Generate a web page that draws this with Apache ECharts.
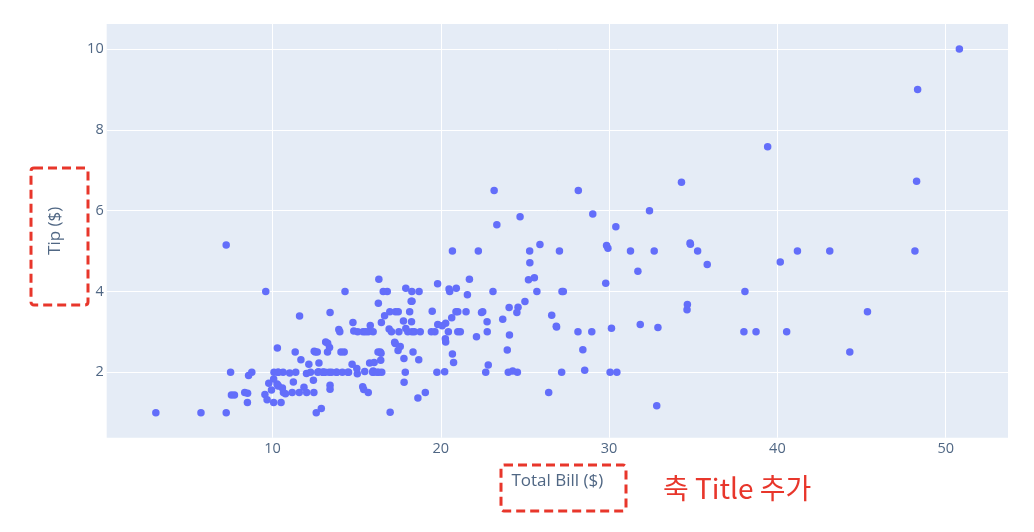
<!DOCTYPE html>
<html>
<head>
<meta charset="utf-8">
<script src="https://cdn.jsdelivr.net/npm/echarts@6/dist/echarts.min.js"></script>
<style>
html,body{margin:0;padding:0;background:#fff;}
#chart{width:1034px;height:532px;}
</style>
</head>
<body>
<div id="chart"></div>
<script>
const totalBill = [16.99,10.34,21.01,23.68,24.59,25.29,8.77,26.88,15.04,14.78,10.27,35.26,15.42,18.43,14.83,21.58,10.33,16.29,16.97,20.65,17.92,20.29,15.77,39.42,19.82,17.81,13.37,12.69,21.7,19.65,9.55,18.35,15.06,20.69,17.78,24.06,16.31,16.93,18.69,31.27,16.04,17.46,13.94,9.68,30.4,18.29,22.23,32.4,28.55,18.04,12.54,10.29,34.81,9.94,25.56,19.49,38.01,26.41,11.24,48.27,20.29,13.81,11.02,18.29,17.59,20.08,16.45,3.07,20.23,15.01,12.02,17.07,26.86,25.28,14.73,10.51,17.92,27.2,22.76,17.29,19.44,16.66,10.07,32.68,15.98,34.83,13.03,18.28,24.71,21.16,28.97,22.49,5.75,16.32,22.75,40.17,27.28,12.03,21.01,12.46,11.35,15.38,44.3,22.42,20.92,15.36,20.49,25.21,18.24,14.31,14.0,7.25,38.07,23.95,25.71,17.31,29.93,10.65,12.43,24.08,11.69,13.42,14.26,15.95,12.48,29.8,8.52,14.52,11.38,22.82,19.08,20.27,11.17,12.26,18.26,8.51,10.33,14.15,16.0,13.16,17.47,34.3,41.19,27.05,16.43,8.35,18.64,11.87,9.78,7.51,14.07,13.13,17.26,24.55,19.77,29.85,48.17,25.0,13.39,16.49,21.5,12.66,16.21,13.81,17.51,24.52,20.76,31.71,10.59,10.63,50.81,15.81,7.25,31.85,16.82,32.9,17.89,14.48,9.6,34.63,34.65,23.33,45.35,23.17,40.55,20.69,20.9,30.46,18.15,23.1,15.69,19.81,28.44,15.48,16.58,7.56,10.34,43.11,13.0,13.51,18.71,12.74,13.0,16.4,20.53,16.47,26.59,38.73,24.27,12.76,30.06,25.89,48.33,13.27,28.17,12.9,28.15,11.59,7.74,30.14,12.16,13.42,8.58,15.98,13.42,16.27,10.09,20.45,13.28,22.12,24.01,15.69,11.61,10.77,15.53,10.07,12.6,32.83,35.83,29.03,27.18,22.67,17.82,18.78];
const tip = [1.01,1.66,3.5,3.31,3.61,4.71,2.0,3.12,1.96,3.23,1.71,5.0,1.57,3.0,3.02,3.92,1.67,3.71,3.5,3.35,4.08,2.75,2.23,7.58,3.18,2.34,2.0,2.0,4.3,3.0,1.45,2.5,3.0,2.45,3.27,3.6,2.0,3.07,2.31,5.0,2.24,2.54,3.06,1.32,5.6,3.0,5.0,6.0,2.05,3.0,2.5,2.6,5.2,1.56,4.34,3.51,3.0,1.5,1.76,6.73,3.21,2.0,1.98,3.76,2.64,3.15,2.47,1.0,2.01,2.09,1.97,3.0,3.14,5.0,2.2,1.25,3.08,4.0,3.0,2.71,3.0,3.4,1.83,5.0,2.03,5.17,2.0,4.0,5.85,3.0,3.0,3.5,1.0,4.3,3.25,4.73,4.0,1.5,3.0,1.5,2.5,3.0,2.5,3.48,4.08,1.64,4.06,4.29,3.76,4.0,3.0,1.0,4.0,2.55,4.0,3.5,5.07,1.5,1.8,2.92,2.31,1.68,2.5,2.0,2.52,4.2,1.48,2.0,2.0,2.18,1.5,2.83,1.5,2.0,3.25,1.25,2.0,2.0,2.0,2.75,3.5,6.7,5.0,5.0,2.3,1.5,1.36,1.63,1.73,2.0,2.5,2.0,2.74,2.0,2.0,5.14,5.0,3.75,2.61,2.0,3.5,2.5,2.0,2.0,3.0,3.48,2.24,4.5,1.61,2.0,10.0,3.16,5.15,3.18,4.0,3.11,2.0,2.0,4.0,3.55,3.68,5.65,3.5,6.5,3.0,5.0,3.5,2.0,3.5,4.0,1.5,4.19,2.56,2.02,4.0,1.44,2.0,5.0,2.0,2.0,4.0,2.01,2.0,2.5,4.0,3.23,3.41,3.0,2.03,2.23,2.0,5.16,9.0,2.5,6.5,1.1,3.0,1.5,1.44,3.09,2.2,3.48,1.92,3.0,1.58,2.5,2.0,3.0,2.72,2.88,2.0,3.0,3.39,1.47,3.0,1.25,1.0,1.17,4.67,5.92,2.0,2.0,1.75,3.0];
const xTicks = [10,20,30,40,50];
const yTicks = [2,4,6,8,10];
const xTitle = 'Total Bill ($)';
const yTitle = 'Tip ($)';
const note = '축 Title 추가';

const chart = echarts.init(document.getElementById('chart'), null, {renderer:'canvas'});
const font = '"Open Sans", "Noto Sans", sans-serif';
const labelColor = '#506784';
chart.setOption({
  backgroundColor: '#ffffff',
  animation: false,
  grid: {left: 106.7, right: 26, top: 24, bottom: 94.3, show: true, backgroundColor: '#E5ECF6', borderWidth: 0},
  xAxis: {
    type: 'value', min: 0.15, max: 53.7,
    axisLine: {show: false}, axisTick: {show: false, customValues: xTicks},
    axisLabel: {customValues: xTicks, color: labelColor, fontFamily: font, fontSize: 14.5, margin: 4},
    splitLine: {show: true, lineStyle: {color: '#ffffff', width: 1}},
    name: xTitle, nameLocation: 'middle', nameGap: 35,
    nameTextStyle: {color: labelColor, fontFamily: font, fontSize: 17}
  },
  yAxis: {
    type: 'value', min: 0.38, max: 10.62,
    axisLine: {show: false}, axisTick: {show: false, customValues: yTicks},
    axisLabel: {customValues: yTicks, color: labelColor, fontFamily: font, fontSize: 14.5, margin: 3},
    splitLine: {show: true, lineStyle: {color: '#ffffff', width: 1}},
    name: yTitle, nameLocation: 'middle', nameGap: 43, nameRotate: 90,
    nameTextStyle: {color: labelColor, fontFamily: font, fontSize: 17}
  },
  series: [{
    type: 'scatter',
    data: totalBill.map((x, i) => [x, tip[i]]),
    symbolSize: 7.5,
    itemStyle: {color: '#636efa', opacity: 1}
  }],
  graphic: [
    {type: 'rect', shape: {x: 31, y: 168, width: 57, height: 137, r: 3},
     style: {fill: null, stroke: '#e8362b', lineWidth: 3, lineDash: [9, 5]}},
    {type: 'rect', shape: {x: 501, y: 465, width: 125, height: 46, r: 3},
     style: {fill: null, stroke: '#e8362b', lineWidth: 3, lineDash: [9, 5]}},
    {type: 'text', x: 663, y: 488,
     style: {text: note, fill: '#e8362b', verticalAlign: 'middle', font: '28px "Noto Sans CJK KR", "Noto Sans", sans-serif'}}
  ]
});
</script>
</body>
</html>
